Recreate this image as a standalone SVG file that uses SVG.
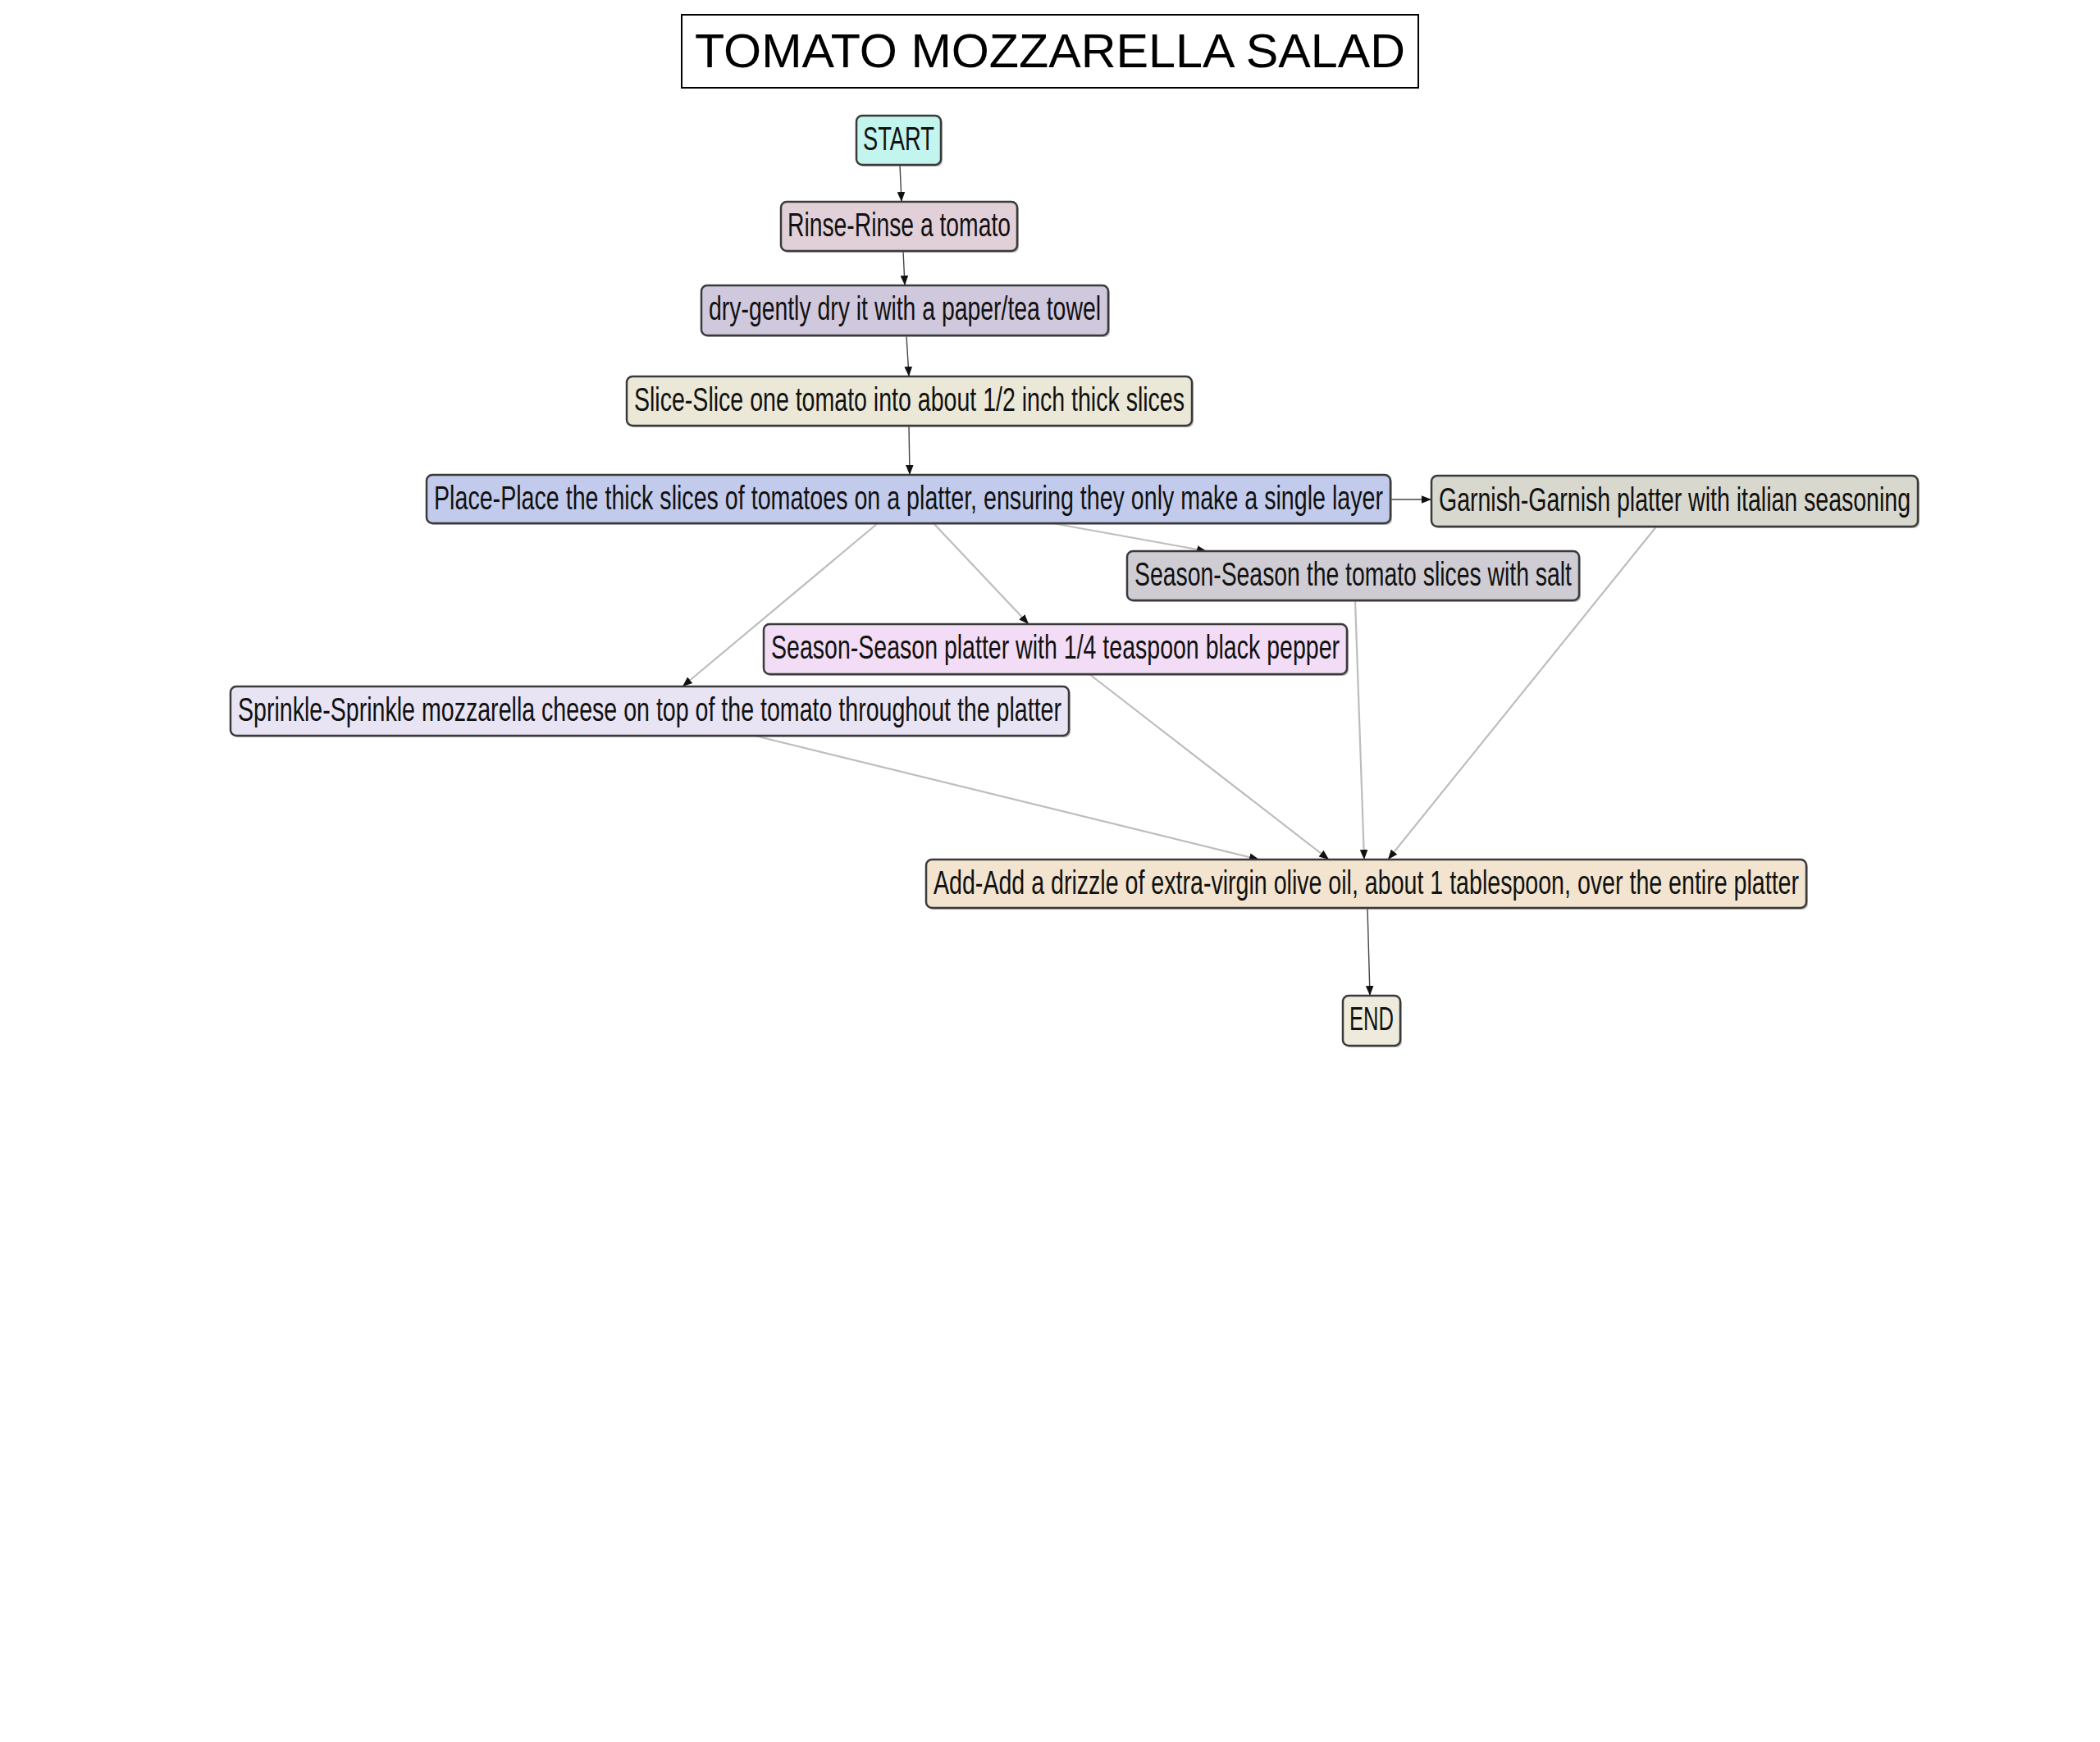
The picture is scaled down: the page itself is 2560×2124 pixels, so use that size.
<svg xmlns="http://www.w3.org/2000/svg" width="2560" height="2124" viewBox="0 0 2560 2124">
<defs>
<marker id="ah" viewBox="0 0 10 10" refX="10" refY="5" markerWidth="12" markerHeight="12" markerUnits="userSpaceOnUse" orient="auto"><path d="M0,1 L10,5 L0,9 z" fill="#111"/></marker>
<style>
.nb{stroke:#3a3a3a;stroke-width:2.5}
.sh{fill:#888;opacity:0.6}
.t{font-family:"Liberation Sans",Arial,sans-serif;font-size:41px;fill:#111;text-anchor:middle}
.e1{stroke:#444;stroke-width:1.4;fill:none}
.e2{stroke:#bdbdbd;stroke-width:2.2;fill:none}
</style>
</defs>
<rect width="2560" height="2124" fill="#fff"/>
<g id="title">
<rect x="831" y="18" width="898" height="89" fill="#fff" stroke="#000" stroke-width="2"/>
<text x="1280" y="82" style="font-family:'Liberation Sans',Arial,sans-serif;font-size:58px;fill:#000" text-anchor="middle" textLength="866" lengthAdjust="spacingAndGlyphs">TOMATO MOZZARELLA SALAD</text>
</g>
<g id="connectors">
<line class="e1" x1="1097" y1="201" x2="1099" y2="246" marker-end="url(#ah)"/>
<line class="e1" x1="1101" y1="306" x2="1103" y2="348" marker-end="url(#ah)"/>
<line class="e1" x1="1105" y1="409" x2="1108" y2="459" marker-end="url(#ah)"/>
<line class="e1" x1="1108" y1="519" x2="1109" y2="579" marker-end="url(#ah)"/>
<line class="e1" x1="1695" y1="609" x2="1745" y2="609" marker-end="url(#ah)"/>
<line class="e2" x1="1070" y1="638" x2="832" y2="837" marker-end="url(#ah)"/>
<line class="e2" x1="1138" y1="638" x2="1254" y2="761" marker-end="url(#ah)"/>
<line class="e2" x1="1283" y1="638" x2="1471" y2="672" marker-end="url(#ah)"/>
<line class="e2" x1="920" y1="897" x2="1535" y2="1048" marker-end="url(#ah)"/>
<line class="e2" x1="1328" y1="822" x2="1620" y2="1048" marker-end="url(#ah)"/>
<line class="e2" x1="1652" y1="732" x2="1663" y2="1048" marker-end="url(#ah)"/>
<line class="e2" x1="2020" y1="641" x2="1692" y2="1048" marker-end="url(#ah)"/>
<line class="e1" x1="1667" y1="1107" x2="1670" y2="1214" marker-end="url(#ah)"/>
</g>
<g id="n_start"><rect class="sh" x="1046" y="143" width="103" height="60" rx="7"/><rect class="nb" x="1044" y="141" width="103" height="60" rx="7" fill="#c2f5ed"/><text class="t" x="1095.5" y="183" textLength="87" lengthAdjust="spacingAndGlyphs">START</text></g>
<g id="n_rinse"><rect class="sh" x="954" y="248" width="288" height="60" rx="7"/><rect class="nb" x="952" y="246" width="288" height="60" rx="7" fill="#e2d0d9"/><text class="t" x="1096" y="288" textLength="272" lengthAdjust="spacingAndGlyphs">Rinse-Rinse a tomato</text></g>
<g id="n_dry"><rect class="sh" x="857" y="350" width="496" height="61" rx="7"/><rect class="nb" x="855" y="348" width="496" height="61" rx="7" fill="#d0c8dc"/><text class="t" x="1103" y="390" textLength="478" lengthAdjust="spacingAndGlyphs">dry-gently dry it with a paper/tea towel</text></g>
<g id="n_slice"><rect class="sh" x="766" y="461" width="689" height="60" rx="7"/><rect class="nb" x="764" y="459" width="689" height="60" rx="7" fill="#ebe8d8"/><text class="t" x="1108.5" y="501" textLength="671" lengthAdjust="spacingAndGlyphs">Slice-Slice one tomato into about 1/2 inch thick slices</text></g>
<g id="n_place"><rect class="sh" x="522" y="581" width="1175" height="59" rx="7"/><rect class="nb" x="520" y="579" width="1175" height="59" rx="7" fill="#c2cbec"/><text class="t" x="1107.5" y="621" textLength="1157" lengthAdjust="spacingAndGlyphs">Place-Place the thick slices of tomatoes on a platter, ensuring they only make a single layer</text></g>
<g id="n_garnish"><rect class="sh" x="1747" y="582" width="593" height="62" rx="7"/><rect class="nb" x="1745" y="580" width="593" height="62" rx="7" fill="#d8d8cf"/><text class="t" x="2041.5" y="623" textLength="575" lengthAdjust="spacingAndGlyphs">Garnish-Garnish platter with italian seasoning</text></g>
<g id="n_salt"><rect class="sh" x="1376" y="674" width="551" height="60" rx="7"/><rect class="nb" x="1374" y="672" width="551" height="60" rx="7" fill="#cfcdd3"/><text class="t" x="1649.5" y="714" textLength="533" lengthAdjust="spacingAndGlyphs">Season-Season the tomato slices with salt</text></g>
<g id="n_pepper"><rect class="sh" x="933" y="763" width="711" height="61" rx="7"/><rect class="nb" x="931" y="761" width="711" height="61" rx="7" fill="#f3dcf5"/><text class="t" x="1286.5" y="803" textLength="693" lengthAdjust="spacingAndGlyphs">Season-Season platter with 1/4 teaspoon black pepper</text></g>
<g id="n_sprinkle"><rect class="sh" x="283" y="839" width="1022" height="60" rx="7"/><rect class="nb" x="281" y="837" width="1022" height="60" rx="7" fill="#e8e4f4"/><text class="t" x="792" y="879" textLength="1004" lengthAdjust="spacingAndGlyphs">Sprinkle-Sprinkle mozzarella cheese on top of the tomato throughout the platter</text></g>
<g id="n_add"><rect class="sh" x="1131" y="1050" width="1073" height="59" rx="7"/><rect class="nb" x="1129" y="1048" width="1073" height="59" rx="7" fill="#f2e4cf"/><text class="t" x="1665.5" y="1090" textLength="1055" lengthAdjust="spacingAndGlyphs">Add-Add a drizzle of extra-virgin olive oil, about 1 tablespoon, over the entire platter</text></g>
<g id="n_end"><rect class="sh" x="1639" y="1216" width="70" height="61" rx="7"/><rect class="nb" x="1637" y="1214" width="70" height="61" rx="7" fill="#efebdc"/><text class="t" x="1672" y="1256" textLength="54" lengthAdjust="spacingAndGlyphs">END</text></g>
</svg>
